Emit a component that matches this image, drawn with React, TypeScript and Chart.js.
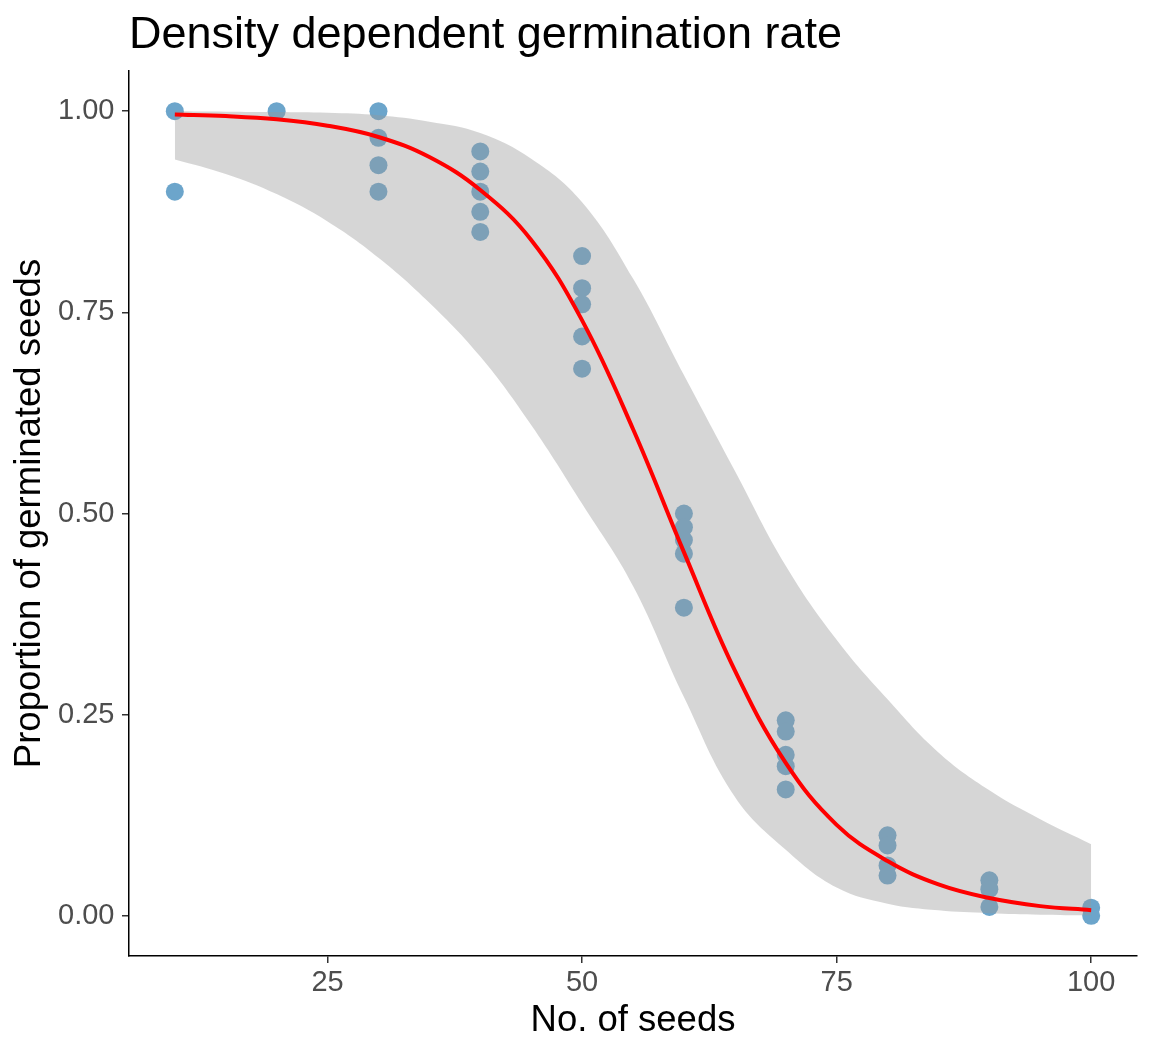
import { useEffect, useRef } from "react";
import { Chart, registerables } from "chart.js";

Chart.register(...registerables);

const chartTitle = "Density dependent germination rate";
const xAxisTitle = "No. of seeds";
const yAxisTitle = "Proportion of germinated seeds";

// observed proportions (x = number of seeds sown, y = proportion germinated)
const seedX = [10, 10, 20, 30, 30, 30, 30, 40, 40, 40, 40, 40, 50, 50, 50, 50, 50, 60, 60, 60, 60, 60, 70, 70, 70, 70, 70, 80, 80, 80, 80, 90, 90, 90, 100, 100];
const seedY = [1.0, 0.9, 1.0, 1.0, 0.967, 0.933, 0.9, 0.95, 0.925, 0.9, 0.875, 0.85, 0.82, 0.78, 0.76, 0.72, 0.68, 0.5, 0.483, 0.467, 0.45, 0.383, 0.243, 0.229, 0.2, 0.186, 0.157, 0.1, 0.0875, 0.0625, 0.05, 0.044, 0.033, 0.011, 0.01, 0.0];

// fitted curve and confidence band
const curveX = [10, 15, 20, 25, 30, 35, 40, 45, 50, 55, 60, 65, 70, 75, 80, 85, 90, 95, 100];
const fitY = [0.996, 0.994, 0.99, 0.982, 0.968, 0.943, 0.902, 0.84, 0.74, 0.605, 0.452, 0.305, 0.19, 0.113, 0.068, 0.039, 0.022, 0.012, 0.007];
const upperY = [1.0, 0.9995, 0.999, 0.998, 0.995, 0.987, 0.973, 0.941, 0.887, 0.792, 0.672, 0.553, 0.435, 0.343, 0.269, 0.203, 0.156, 0.12, 0.089];
const lowerY = [0.94, 0.922, 0.897, 0.863, 0.818, 0.762, 0.695, 0.61, 0.512, 0.41, 0.272, 0.148, 0.082, 0.035, 0.015, 0.0068, 0.0032, 0.0014, 0.0006];

const xTicks = [25, 50, 75, 100];
const yTicks = [0, 0.25, 0.5, 0.75, 1];

const FONT = '"Liberation Sans", Arial, "DejaVu Sans", sans-serif';

const panelTitlePlugin = {
  id: "panelTitle",
  afterDraw(chart: any) {
    const { ctx, chartArea } = chart;
    ctx.save();
    ctx.font = `45px ${FONT}`;
    ctx.fillStyle = "#000000";
    ctx.textAlign = "left";
    ctx.textBaseline = "alphabetic";
    ctx.fillText(chartTitle, chartArea.left, 48);
    ctx.restore();
  },
};

export default function App() {
  const canvasRef = useRef<HTMLCanvasElement | null>(null);

  useEffect(() => {
    if (!canvasRef.current) return;
    Chart.defaults.font.family = FONT;

    const points = seedX.map((x, i) => ({ x, y: seedY[i] }));
    const fit = curveX.map((x, i) => ({ x, y: fitY[i] }));
    const upper = curveX.map((x, i) => ({ x, y: upperY[i] }));
    const lower = curveX.map((x, i) => ({ x, y: lowerY[i] }));

    const chart = new Chart(canvasRef.current, {
      type: "scatter",
      data: {
        datasets: [
          {
            type: "scatter",
            data: points,
            pointRadius: 9,
            pointHoverRadius: 9,
            pointBackgroundColor: "rgb(108,165,203)",
            pointBorderWidth: 0,
            pointBorderColor: "rgba(0,0,0,0)",
            order: 4,
          } as any,
          {
            type: "line",
            data: lower,
            showLine: true,
            borderColor: "rgba(0,0,0,0)",
            borderWidth: 1,
            pointRadius: 0,
            fill: false,
            tension: 0.4,
            order: 3,
          } as any,
          {
            type: "line",
            data: upper,
            showLine: true,
            borderColor: "rgba(0,0,0,0)",
            borderWidth: 1,
            pointRadius: 0,
            backgroundColor: "rgba(153,153,153,0.4)",
            fill: "-1",
            tension: 0.4,
            order: 2,
          } as any,
          {
            type: "line",
            data: fit,
            showLine: true,
            borderColor: "#FF0000",
            borderWidth: 4,
            borderCapStyle: "butt",
            pointRadius: 0,
            fill: false,
            tension: 0.4,
            order: 1,
          } as any,
        ],
      },
      options: {
        animation: false,
        responsive: false,
        maintainAspectRatio: false,
        events: [],
        layout: { padding: { left: 0, right: 15, top: 71, bottom: 0 } },
        plugins: {
          legend: { display: false },
          tooltip: { enabled: false },
          title: { display: false },
        },
        scales: {
          x: {
            type: "linear",
            min: 5.5,
            max: 104.5,
            afterBuildTicks: (scale: any) => {
              scale.ticks = xTicks.map((v) => ({ value: v }));
            },
            afterFit: (scale: any) => {
              scale.height = 100;
            },
            ticks: {
              color: "#4D4D4D",
              font: { size: 29, family: FONT },
              padding: 3,
              maxRotation: 0,
              autoSkip: false,
              callback: (v: any) => String(v),
            },
            grid: {
              display: true,
              drawOnChartArea: false,
              drawTicks: true,
              tickLength: 7,
              color: "#333333",
              lineWidth: 1.5,
            },
            border: { display: true, color: "#000000", width: 1.5 },
            title: {
              display: true,
              text: xAxisTitle,
              color: "#000000",
              font: { size: 36.5, family: FONT },
              padding: { top: 0, bottom: 12.7 },
            },
          },
          y: {
            type: "linear",
            min: -0.05,
            max: 1.05,
            afterBuildTicks: (scale: any) => {
              scale.ticks = yTicks.map((v) => ({ value: v }));
            },
            afterFit: (scale: any) => {
              scale.width = 129;
            },
            ticks: {
              color: "#4D4D4D",
              font: { size: 29, family: FONT },
              padding: 7.5,
              autoSkip: false,
              callback: (v: any) => Number(v).toFixed(2),
            },
            grid: {
              display: true,
              drawOnChartArea: false,
              drawTicks: true,
              tickLength: 7,
              color: "#333333",
              lineWidth: 1.5,
            },
            border: { display: true, color: "#000000", width: 1.5 },
            title: {
              display: true,
              text: yAxisTitle,
              color: "#000000",
              font: { size: 36.5, family: FONT },
              padding: { top: 7.8, bottom: 0 },
            },
          },
        },
      } as any,
      plugins: [panelTitlePlugin],
    });

    return () => {
      chart.destroy();
    };
  }, []);

  return (
    <div style={{ position: "absolute", left: 0, top: 0, width: 1152, height: 1056, background: "#FFFFFF" }}>
      <canvas ref={canvasRef} width={1152} height={1056} style={{ width: 1152, height: 1056, display: "block" }} />
    </div>
  );
}
